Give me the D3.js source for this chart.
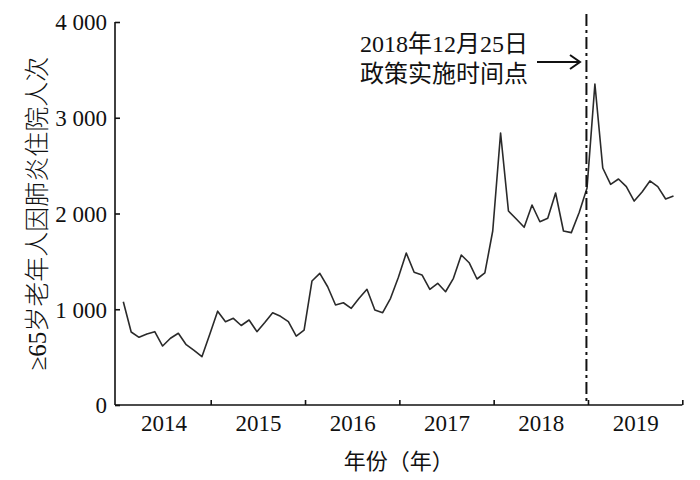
<!DOCTYPE html>
<html><head><meta charset="utf-8">
<script src="https://cdn.jsdelivr.net/npm/d3@7"></script>
<style>
html,body{margin:0;padding:0;background:#fff;}
svg text{font-family:"Liberation Serif","Noto Sans CJK SC",serif;fill:#111;}
</style></head>
<body>
<svg id="c" width="700" height="480"></svg>
<script>
// Monthly inpatient counts, Jan 2014 – Nov 2019
const startYear = 2014;
const values = [
  1079, 762, 707, 741, 766, 616, 697, 749, 630, 570, 504, 738,
  980, 870, 905, 830, 888, 766, 862, 964, 926, 870, 720, 783,
  1295, 1375, 1235, 1044, 1068, 1010, 1114, 1208, 992, 964, 1114, 1334,
  1587, 1386, 1358, 1208, 1271, 1183, 1323, 1567, 1486, 1316, 1379, 1817,
  2841, 2026, 1943, 1856, 2089, 1914, 1950, 2214, 1817, 1800, 2010, 2266,
  3352, 2475, 2305, 2360, 2280, 2130, 2225, 2340, 2280, 2152, 2183
];
const yearLabels = [2014, 2015, 2016, 2017, 2018, 2019];
const yearBoundaries = [2015, 2016, 2017, 2018, 2019, 2020];
const yTicks = [0, 1000, 2000, 3000, 4000];
const policyDate = 2019 - 6/365;
const annotation = ["2018年12月25日", "政策实施时间点"];
const yTitle = "≥65岁老年人因肺炎住院人次";
const xTitle = "年份（年）";

const svg = d3.select("#c");
const x = d3.scaleLinear().domain([2014, 2020]).range([116.4, 682.3]);
const y = d3.scaleLinear().domain([0, 4000]).range([405, 22]);
const axisX0 = 115;

// Y axis
const ya = svg.append("g").attr("transform", `translate(${axisX0},0)`)
  .call(d3.axisLeft(y).tickValues(yTicks).tickSize(-5).tickSizeOuter(0).tickPadding(8)
    .tickFormat(d => d3.format(",")(d).replace(/,/g, " ")));
ya.select(".domain").attr("stroke", "#111").attr("stroke-width", 1.6)
  .attr("d", `M0,${y(4000)}V${y(0)}`);
ya.selectAll(".tick line").attr("stroke", "#111").attr("stroke-width", 1.6);
ya.selectAll(".tick text").style("font-size", "23px").attr("dy", "0.34em");

// X axis (ticks at year boundaries, labels at mid-year)
const xa = svg.append("g").attr("transform", `translate(0,${y(0)})`)
  .call(d3.axisBottom(x).tickValues(yearBoundaries).tickSize(-5).tickSizeOuter(0).tickFormat(""));
xa.select(".domain").attr("stroke", "#111").attr("stroke-width", 1.6)
  .attr("d", `M${axisX0},0H${x(2020)}`);
xa.selectAll(".tick line").attr("stroke", "#111").attr("stroke-width", 1.6);

const xl = svg.append("g").attr("transform", `translate(0,${y(0)})`)
  .call(d3.axisBottom(x).tickValues(yearLabels.map(v => v + 0.5)).tickSize(0).tickPadding(10)
    .tickFormat(d => String(Math.floor(d))));
xl.select(".domain").remove();
xl.selectAll(".tick text").style("font-size", "23px");

// Data line
const line = d3.line()
  .x((d, i) => x(startYear + (i + 0.88) / 12))
  .y(d => y(d));
svg.append("path").datum(values)
  .attr("d", line).attr("fill", "none")
  .attr("stroke", "#2a2a2a").attr("stroke-width", 1.6).attr("stroke-linejoin", "round");

// Policy dashed line
svg.append("line")
  .attr("x1", x(policyDate)).attr("x2", x(policyDate))
  .attr("y1", 14).attr("y2", y(0))
  .attr("stroke", "#111").attr("stroke-width", 2)
  .attr("stroke-dasharray", "12,4,3,4");

// Annotation
svg.append("text").attr("x", 360).attr("y", 52).style("font-size", "24px").text(annotation[0]);
svg.append("text").attr("x", 360).attr("y", 82).style("font-size", "24px").text(annotation[1]);
svg.append("path")
  .attr("d", "M537,62H580M570,55L580,62L570,69")
  .attr("fill", "none").attr("stroke", "#111").attr("stroke-width", 2);

// Titles
svg.append("text")
  .attr("transform", `translate(37,${(y(0) + y(4000)) / 2}) rotate(-90)`)
  .attr("text-anchor", "middle").attr("dy", "0.35em").style("font-size", "25px").style("font-weight", "300").text(yTitle);
svg.append("text").attr("x", (axisX0 + x(2020)) / 2).attr("y", 469)
  .attr("text-anchor", "middle").style("font-size", "22px").text(xTitle);
</script>
</body></html>
